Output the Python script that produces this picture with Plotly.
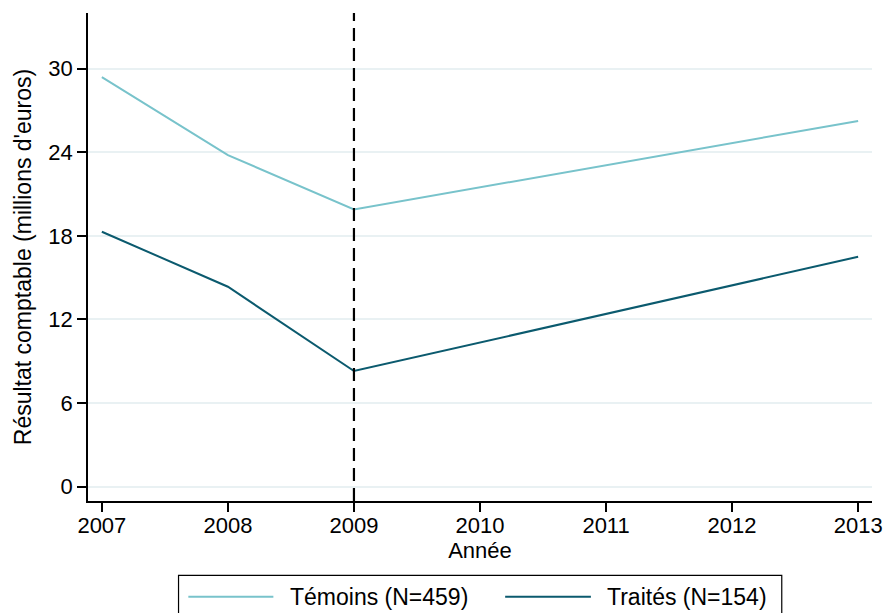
import plotly.graph_objects as go

years = [2007, 2008, 2009, 2013]
temoins = [29.4, 23.8, 19.9, 26.25]
traites = [18.3, 14.35, 8.3, 16.5]
series_names = ["Témoins (N=459)", "Traités (N=154)"]
series_colors = ["#78c3cb", "#0b5a6e"]
x_ticks = [2007, 2008, 2009, 2010, 2011, 2012, 2013]
y_ticks = [0, 6, 12, 18, 24, 30]
event_year = 2009

W, H = 885, 613
L, R, T, B = 88, 871.7, 12.7, 501.0
FONT = "Liberation Sans, Arial, sans-serif"


def px_x(px):
    return (px - L) / (R - L)


def px_y(py):
    return (B - py) / (B - T)


fig = go.Figure()
for name, vals, col in zip(series_names, [temoins, traites], series_colors):
    fig.add_trace(go.Scatter(x=years, y=vals, mode="lines", name=name,
                             line=dict(color=col, width=2), showlegend=False))

# vertical dashed line at the event year
fig.add_shape(type="line", xref="x", yref="paper", x0=event_year, x1=event_year,
              y0=0, y1=1, line=dict(color="black", width=2.2, dash="13px,7px"))

# manual legend
fig.add_shape(type="rect", xref="paper", yref="paper",
              x0=px_x(178.5), x1=px_x(781.5), y0=px_y(616), y1=px_y(575.5),
              line=dict(color="black", width=1.2), fillcolor="white")
legend_items = [(188.3, 273.3, 288.3), (505, 590.7, 605)]
for (lx0, lx1, tx), name, col in zip(legend_items, series_names, series_colors):
    fig.add_shape(type="line", xref="paper", yref="paper",
                  x0=px_x(lx0), x1=px_x(lx1), y0=px_y(596.7), y1=px_y(596.7),
                  line=dict(color=col, width=2))
    fig.add_annotation(xref="paper", yref="paper", x=px_x(tx), y=px_y(596.7),
                       text=name, showarrow=False, xanchor="left", yanchor="middle",
                       font=dict(family=FONT, size=23, color="black"))

fig.update_layout(
    width=W, height=H,
    margin=dict(l=L, r=W - R, t=T, b=H - B, pad=0),
    paper_bgcolor="white", plot_bgcolor="white",
    font=dict(family=FONT, size=22, color="black"),
    showlegend=False,
)
fig.update_xaxes(
    range=[2006.89, 2013.11], tickvals=x_ticks, ticktext=[str(v) for v in x_ticks],
    showline=True, linecolor="black", linewidth=1.5, mirror=False,
    ticks="outside", ticklen=9, tickwidth=1.5, tickcolor="black",
    showgrid=False, zeroline=False, automargin=False,
    ticklabelstandoff=-5,
    title=dict(text="Année", standoff=0, font=dict(size=22)),
    tickfont=dict(size=22),
)
fig.update_yaxes(
    range=[-1.03, 34.0], tickvals=y_ticks, ticktext=[str(v) for v in y_ticks],
    showline=True, linecolor="black", linewidth=1.5,
    ticks="outside", ticklen=9, tickwidth=1.5, tickcolor="black",
    showgrid=True, gridcolor="#e9f1f3", gridwidth=1.5, zeroline=False, automargin=False,
    title=dict(text="Résultat comptable (millions d'euros)", standoff=10, font=dict(size=23)),
    tickfont=dict(size=22),
)

fig.write_html("out.html", config={"displayModeBar": False},
               post_script="document.body.style.margin='0';document.body.style.overflow='hidden';")
